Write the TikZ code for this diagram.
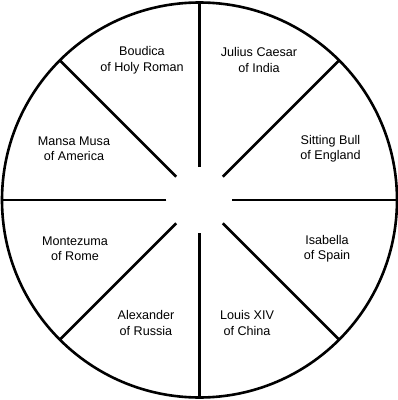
\documentclass[tikz,border=0pt]{standalone}
\usepackage{fontspec}
\setmainfont{Liberation Sans}
\begin{document}
\begin{tikzpicture}[x=1pt, y=1pt, line width=2.6pt,
    ruler/.style={align=center, font=\fontsize{12.6}{15.5}\selectfont}]
  \useasboundingbox (-199.5,-200) rectangle (198.5,200);
  % outer ring
  \draw (0,0) circle (197.5);
  % spokes, leaving a gap in the middle
  \foreach \a in {0,45,...,315}
    \draw (\a:33) -- (\a:197.5);
  % rulers, clockwise from the top
  \node[ruler] (julius)    at (59.5,140)    {Julius Caesar\\of India};
  \node[ruler] (sitting)   at (131,51.5)    {Sitting Bull\\of England};
  \node[ruler] (isabella)  at (127.5,-48.5) {Isabella\\of Spain};
  \node[ruler] (louis)     at (47.5,-123)   {Louis XIV\\of China};
  \node[ruler] (alexander) at (-53.5,-123)  {Alexander\\of Russia};
  \node[ruler] (montezuma) at (-124.5,-48.5){Montezuma\\of Rome};
  \node[ruler] (mansa)     at (-125.5,51.5) {Mansa Musa\\of America};
  \node[ruler] (boudica)   at (-57.5,140)   {Boudica\\of Holy Roman};
\end{tikzpicture}
\end{document}
